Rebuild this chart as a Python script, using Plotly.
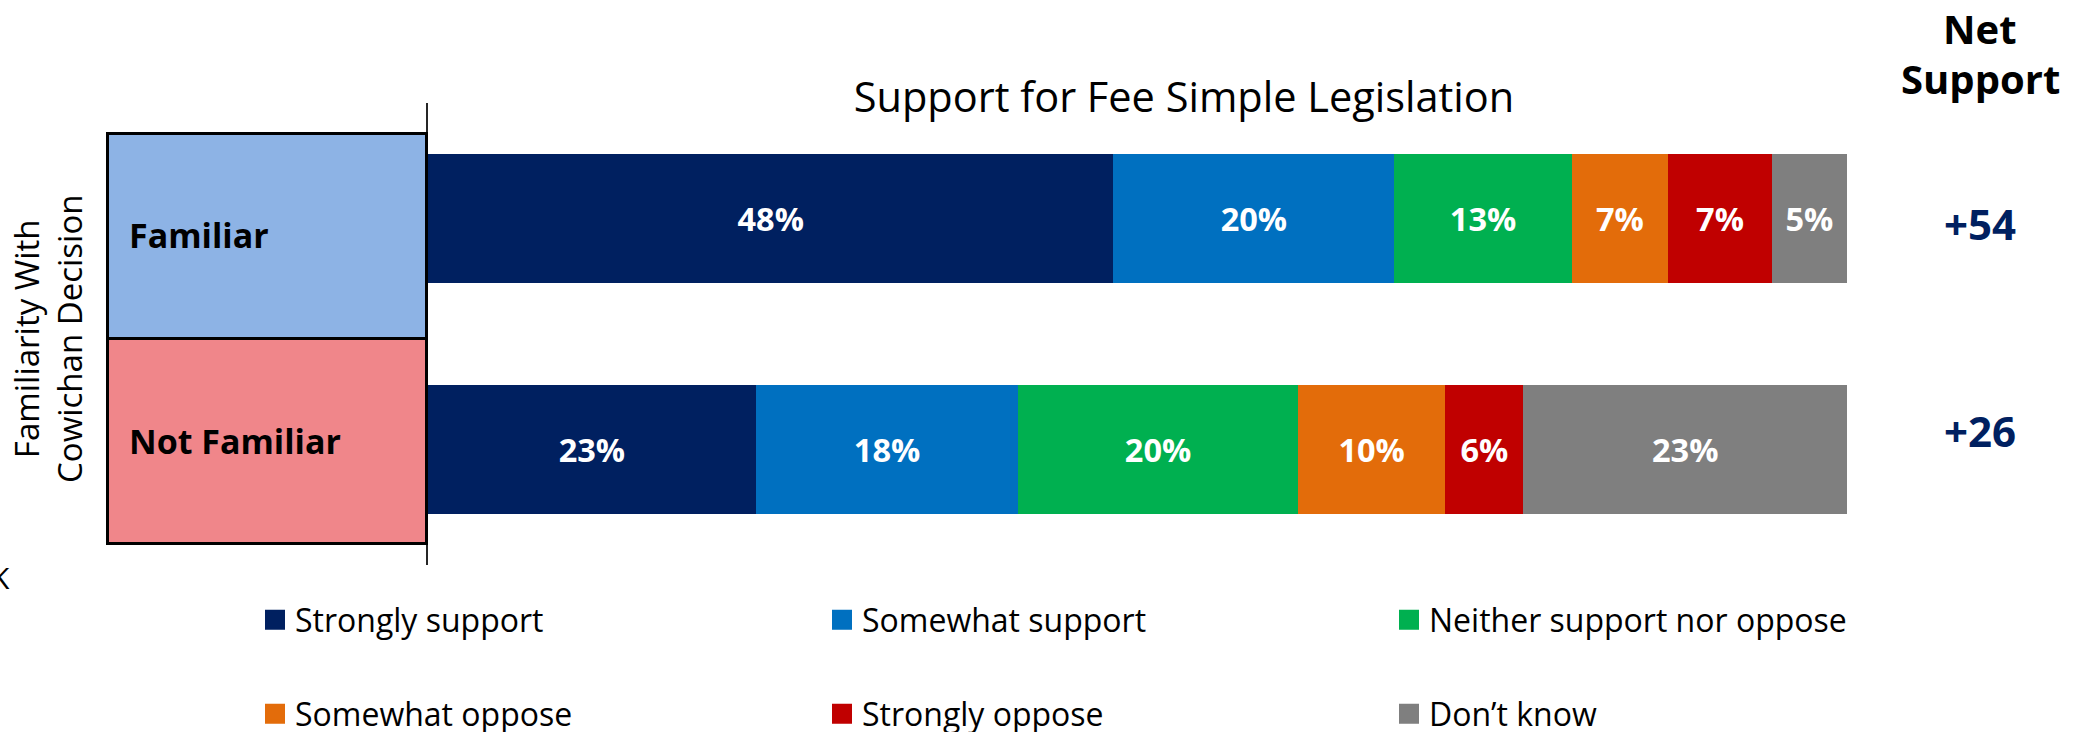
import plotly.graph_objects as go

W, H = 2081, 732

# ---------------- data ----------------
groups = ["Familiar", "Not Familiar"]
series = ["Strongly support", "Somewhat support", "Neither support nor oppose",
          "Somewhat oppose", "Strongly oppose", "Don\u2019t know"]
familiar_vals = [48.3, 19.8, 12.5, 6.8, 7.3, 5.3]
not_familiar_vals = [23.1, 18.5, 19.7, 10.4, 5.5, 22.8]
familiar_labels = ["48%", "20%", "13%", "7%", "7%", "5%"]
not_familiar_labels = ["23%", "18%", "20%", "10%", "6%", "23%"]
net_support = ["+54", "+26"]
colors = ["#002060", "#0070C0", "#00B050", "#E36C0A", "#C00000", "#7F7F7F"]
group_colors = ["#8DB3E5", "#F0868A"]

FONT = "Open Sans"


def px_x(p):
    return p / W


def px_y(p):
    return 1 - p / H


fig = go.Figure()

# stacked bars
for i, name in enumerate(series):
    fig.add_trace(go.Bar(
        y=groups, x=[familiar_vals[i], not_familiar_vals[i]],
        orientation="h", name=name,
        marker=dict(color=colors[i], line=dict(width=0)),
        width=0.557,
        text=[familiar_labels[i], not_familiar_labels[i]],
        textposition="inside", insidetextanchor="middle", textangle=0,
        textfont=dict(family=FONT, size=32.5, color="white", weight="bold"),
        showlegend=False, hoverinfo="skip",
        xaxis="x", yaxis="y",
    ))

# legend proxies
for i, name in enumerate(series):
    fig.add_trace(go.Scatter(
        x=[None], y=[None], mode="markers", name=name,
        marker=dict(symbol="square", size=16, color=colors[i],
                    line=dict(color=colors[i], width=4)),
        legend="legend" if i < 3 else "legend2",
        xaxis="x", yaxis="y",
    ))

# group boxes
fig.add_trace(go.Bar(
    y=groups, x=[1, 1], orientation="h", width=1,
    marker=dict(color=group_colors, line=dict(color="black", width=3)),
    showlegend=False, hoverinfo="skip",
    xaxis="x2", yaxis="y2",
))

box_l, box_r, box_t, box_b = 107, 426, 133, 543
pad = 3
bw = box_r - box_l
bh = box_b - box_t

legend_common = dict(orientation="h", xanchor="left", yanchor="middle",
                     entrywidth=522, entrywidthmode="pixels",
                     traceorder="normal",
                     font=dict(family=FONT, size=32, color="black"),
                     bgcolor="rgba(0,0,0,0)", borderwidth=0,
                     itemsizing="trace")

fig.update_layout(
    width=W, height=H,
    margin=dict(l=0, r=0, t=0, b=0, autoexpand=False),
    paper_bgcolor="white", plot_bgcolor="rgba(0,0,0,0)",
    barmode="stack",
    font=dict(family=FONT, color="black"),
    xaxis=dict(domain=[px_x(428), px_x(1847)], range=[0, 100],
               showgrid=False, zeroline=False, showticklabels=False,
               ticks="", showline=False, fixedrange=True),
    yaxis=dict(domain=[px_y(565), px_y(103)], range=[1.5, -0.5],
               type="category", categoryarray=groups,
               showgrid=False, zeroline=False, showticklabels=False, ticks="",
               showline=True, linecolor="#262626", linewidth=2, fixedrange=True),
    xaxis2=dict(domain=[px_x(box_l - pad), px_x(box_r + pad)],
                range=[-pad / bw, 1 + pad / bw], anchor="y2",
                showgrid=False, zeroline=False, showticklabels=False,
                ticks="", showline=False, fixedrange=True),
    yaxis2=dict(domain=[px_y(box_b + pad), px_y(box_t - pad)],
                range=[1.5 + 2 * pad / bh, -0.5 - 2 * pad / bh],
                type="category", categoryarray=groups, anchor="x2",
                showgrid=False, zeroline=False, showticklabels=False,
                ticks="", showline=False, fixedrange=True),
    title=dict(text="Support for Fee Simple Legislation",
               x=px_x(1184), y=px_y(97), xanchor="center", yanchor="middle",
               xref="paper", yref="paper",
               font=dict(family=FONT, size=41.5, color="black")),
    legend=dict(x=px_x(255), y=px_y(620), **legend_common),
    legend2=dict(x=px_x(255), y=px_y(714), **legend_common),
)

annotations = []
# group labels inside boxes
for g in groups:
    annotations.append(dict(
        x=0, y=g, xref="x2", yref="y2", text="<b>%s</b>" % g,
        xanchor="left", yanchor="middle", xshift=20, showarrow=False,
        font=dict(family=FONT, size=34, color="black")))

# axis title (rotated)
annotations.append(dict(
    x=px_x(48), y=px_y(339), xref="paper", yref="paper",
    text="Familiarity With<br>Cowichan Decision", textangle=-90,
    xanchor="center", yanchor="middle", showarrow=False,
    font=dict(family=FONT, size=33, color="black")))

# Net support header
annotations.append(dict(
    x=px_x(1980), y=px_y(29), xref="paper", yref="paper", text="<b>Net</b>",
    xanchor="center", yanchor="middle", showarrow=False,
    font=dict(family=FONT, size=40, color="black")))
annotations.append(dict(
    x=px_x(1980), y=px_y(79), xref="paper", yref="paper", text="<b>Support</b>",
    xanchor="center", yanchor="middle", showarrow=False,
    font=dict(family=FONT, size=40, color="black")))

# Net support values
for val, ypx in zip(net_support, [223, 430]):
    annotations.append(dict(
        x=px_x(1980), y=px_y(ypx), xref="paper", yref="paper",
        text="<b>%s</b>" % val, xanchor="center", yanchor="middle",
        showarrow=False, font=dict(family=FONT, size=42, color="#002060")))

# stray cropped glyph at left edge
annotations.append(dict(
    x=0, y=px_y(577), xref="paper", yref="paper", text="K",
    xanchor="center", yanchor="middle", showarrow=False,
    font=dict(family=FONT, size=30, color="black")))

fig.update_layout(annotations=annotations)

fig.write_html(
    "out.html",
    config={"displayModeBar": False},
    post_script="document.body.style.margin='0';"
                "document.body.style.overflow='hidden';",
)
